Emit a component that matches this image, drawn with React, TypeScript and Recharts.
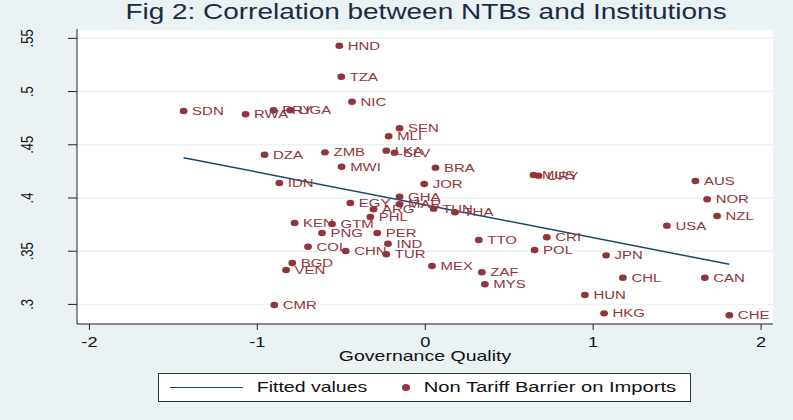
import React from 'react';
import { ScatterChart, Scatter, XAxis, YAxis, CartesianGrid } from 'recharts';

const countries = [
  'HND', 'TZA', 'NIC', 'SDN', 'RWA', 'PRY', 'UGA', 'SEN', 'MLI', 'LKA', 'SLV',
  'DZA', 'ZMB', 'MWI', 'BRA', 'IDN', 'JOR', 'GHA', 'MAR', 'EGY', 'ARG', 'TUN',
  'THA', 'PHL', 'KEN', 'GTM', 'PNG', 'PER', 'COL', 'IND', 'CHN', 'TUR', 'BGD',
  'VEN', 'CMR', 'MEX', 'TTO', 'ZAF', 'MYS', 'MUS', 'URY', 'CRI', 'POL', 'JPN',
  'CHL', 'CAN', 'HUN', 'HKG', 'CHE', 'AUS', 'NOR', 'NZL', 'USA',
];
const governance = [
  -0.512, -0.5, -0.436, -1.439, -1.07, -0.903, -0.804, -0.153, -0.218, -0.232, -0.183,
  -0.957, -0.597, -0.498, 0.061, -0.869, -0.006, -0.153, -0.153, -0.446, -0.308, 0.05,
  0.177, -0.327, -0.778, -0.555, -0.615, -0.286, -0.698, -0.222, -0.474, -0.232, -0.792,
  -0.829, -0.899, 0.04, 0.319, 0.337, 0.355, 0.645, 0.675, 0.724, 0.651, 1.077,
  1.177, 1.665, 0.951, 1.065, 1.811, 1.609, 1.679, 1.738, 1.439,
];
const ntb = [
  0.5431, 0.514, 0.4905, 0.4818, 0.4787, 0.4824, 0.4824, 0.4655, 0.458, 0.4445, 0.4426,
  0.4407, 0.4429, 0.4294, 0.4285, 0.4141, 0.4132, 0.4012, 0.3941, 0.3953, 0.3894, 0.39,
  0.3866, 0.3821, 0.3765, 0.3756, 0.3671, 0.3671, 0.3542, 0.357, 0.3502, 0.3471, 0.3389,
  0.3323, 0.2994, 0.3361, 0.3605, 0.3302, 0.3189, 0.4216, 0.421, 0.3631, 0.3511, 0.3461,
  0.3251, 0.3251, 0.3088, 0.2916, 0.2898, 0.416, 0.3988, 0.3831, 0.374,
];
const fittedX = [-1.439, 1.811];
const fittedY = [0.4379, 0.3377];
const xTicks = [-2, -1, 0, 1, 2];
const yTicks = [0.3, 0.35, 0.4, 0.45, 0.5, 0.55];

const points = countries.map((name, i) => ({ name, x: governance[i], y: ntb[i] }));
const fitted = fittedX.map((x, i) => ({ x, y: fittedY[i] }));

const MAROON = '#90353B';
const NAVY = '#1A476F';
const BG = '#EAF2F3';
const FONT = '"Liberation Sans", Arial, Helvetica, sans-serif';
const SX = 1.3; // the reference is stretched horizontally

const CountryDot = (props: any) => {
  const { cx, cy, payload } = props;
  if (cx == null || cy == null) return null;
  return (
    <g>
      <ellipse cx={cx} cy={cy} rx={3.9} ry={3.2} fill={MAROON} />
      <text
        transform={`translate(${cx + 8.5},${cy + 4}) scale(${SX},1)`}
        fontSize={11.5}
        fontFamily={FONT}
        fill={MAROON}
      >
        {payload.name}
      </text>
    </g>
  );
};

const XTick = (props: any) => {
  const { x, y, payload } = props;
  return (
    <text
      transform={`translate(${x},${y + 15}) scale(${SX},1)`}
      textAnchor="middle"
      fontSize={14}
      fontFamily={FONT}
      fill="#111"
    >
      {payload.value}
    </text>
  );
};

const YTick = (props: any) => {
  const { x, y, payload } = props;
  const label = String(payload.value).replace(/^0/, '');
  return (
    <text
      transform={`translate(${x - 33},${y}) rotate(-90) scale(1,${SX})`}
      textAnchor="middle"
      fontSize={13}
      fontFamily={FONT}
      fill="#111"
    >
      {label}
    </text>
  );
};

const stretch = (extra: React.CSSProperties = {}): React.CSSProperties => ({
  position: 'absolute',
  whiteSpace: 'nowrap',
  fontFamily: FONT,
  transform: `translateX(-50%) scaleX(${SX})`,
  ...extra,
});

export default function App() {
  return (
    <div style={{ position: 'absolute', left: 0, top: 0, width: 793, height: 420, background: BG, overflow: 'hidden' }}>
      <ScatterChart width={793} height={420} margin={{ top: 29, right: 20, bottom: 46, left: 0 }}>
        <CartesianGrid vertical={false} stroke={BG} fill="#ffffff" strokeWidth={1.5} />
        <XAxis
          type="number"
          dataKey="x"
          domain={[-2.074, 2.071]}
          ticks={xTicks}
          height={50}
          tickSize={6}
          tick={<XTick />}
          axisLine={{ stroke: '#222' }}
          tickLine={{ stroke: '#222' }}
          allowDataOverflow
        />
        <YAxis
          type="number"
          dataKey="y"
          domain={[0.2816, 0.5588]}
          ticks={yTicks}
          width={77}
          tickSize={9}
          tick={<YTick />}
          axisLine={{ stroke: '#222' }}
          tickLine={{ stroke: '#222' }}
          allowDataOverflow
        />
        <Scatter
          data={fitted}
          line={{ stroke: NAVY, strokeWidth: 1.5 }}
          shape={() => <g />}
          isAnimationActive={false}
        />
        <Scatter data={points} shape={<CountryDot />} isAnimationActive={false} />
      </ScatterChart>

      <div style={stretch({ left: 426, top: 0, fontSize: 21.5, color: '#1c2a44' })}>
        Fig 2: Correlation between NTBs and Institutions
      </div>
      <div style={stretch({ left: 425, top: 347, fontSize: 15, color: '#111' })}>
        Governance Quality
      </div>

      <div
        style={{
          position: 'absolute',
          left: 158,
          top: 373,
          width: 533,
          height: 29,
          background: '#fff',
          border: '1px solid #333',
          boxSizing: 'border-box',
        }}
      >
        <div style={{ position: 'absolute', left: 11, top: 13, width: 73, height: 0, borderTop: `1.5px solid ${NAVY}` }} />
        <div style={stretch({ left: 98 + 55, top: 4, fontSize: 15, color: '#111' })}>Fitted values</div>
        <div
          style={{
            position: 'absolute',
            left: 243,
            top: 10,
            width: 8,
            height: 7,
            borderRadius: '50%',
            background: MAROON,
          }}
        />
        <div style={stretch({ left: 262 + 129, top: 4, fontSize: 15.5, color: '#111' })}>
          Non Tariff Barrier on Imports
        </div>
      </div>
    </div>
  );
}
